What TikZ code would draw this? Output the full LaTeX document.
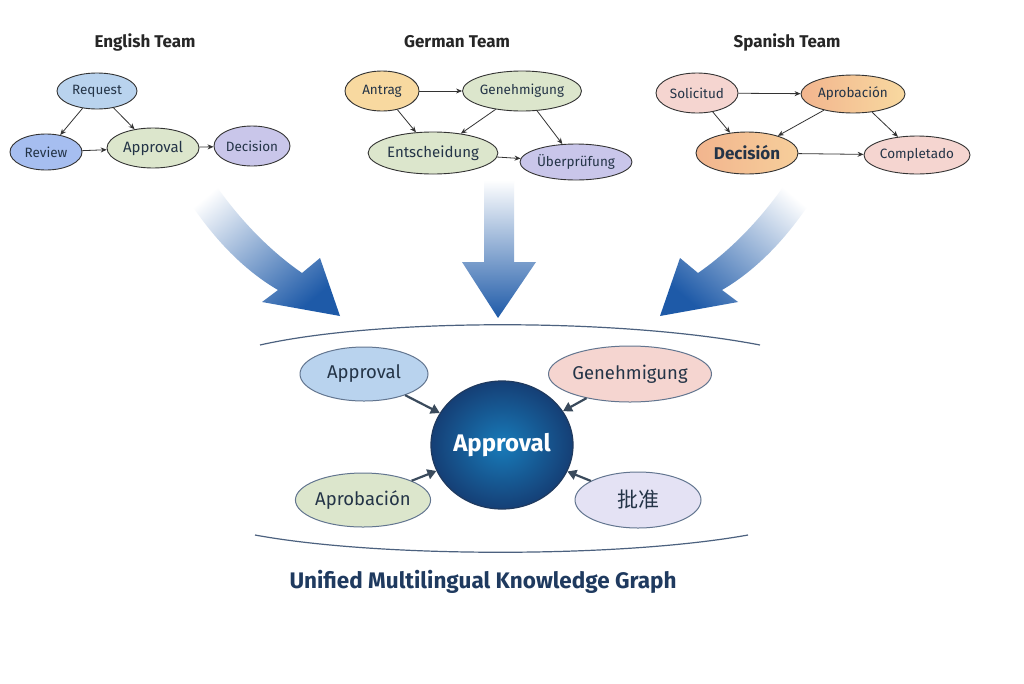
\documentclass[tikz,border=0pt]{standalone}
\usepackage{fontspec}
\setmainfont{Fira Sans}
\newfontfamily\cjk{Noto Sans CJK SC}
\usetikzlibrary{shapes.geometric,arrows.meta}
\definecolor{bl}{HTML}{B9D3EE}
\definecolor{gr}{HTML}{DCE6CC}
\definecolor{lv}{HTML}{C9C6EA}
\definecolor{or}{HTML}{F8D9A0}
\definecolor{pk}{HTML}{F5D5D0}
\definecolor{so}{HTML}{F2B58E}
\definecolor{txt}{HTML}{243447}
\definecolor{navy}{HTML}{1F3A5F}
\definecolor{arw}{HTML}{3A4A5C}
\definecolor{ab}{HTML}{1E5AA8}
\begin{document}
\begin{tikzpicture}[x=1pt,y=-1pt,
 sm/.style={ellipse,draw=black!80,line width=0.9pt,inner sep=0pt,font=\fontsize{13.5}{15}\selectfont,text=txt},
 bg/.style={ellipse,draw=navy!70,line width=1pt,inner sep=0pt,font=\fontsize{18.5}{20}\selectfont,text=txt},
 sa/.style={-{Stealth[length=6pt,width=5pt]},line width=0.8pt,black!80},
 ba/.style={-{Triangle[length=9pt,width=10pt]},line width=2.2pt,arw},
 ttl/.style={font=\fontsize{17}{19}\selectfont\bfseries,text=black!85},
 big/.style={top color=white,bottom color=ab}]
\useasboundingbox (0,0) rectangle (1024,683);
\fill[white] (0,0) rectangle (1024,683);
% titles
\node[ttl] (t1) at (145,42) {English Team};
\node[ttl] (t2) at (457,42) {German Team};
\node[ttl] (t3) at (787,42) {Spanish Team};
% English
\node[sm,fill=bl,minimum width=80,minimum height=36] (req) at (97,91) {Request};
\node[sm,fill=bl!90!blue,minimum width=72,minimum height=36] (rev) at (46,152) {Review};
\node[sm,fill=gr,minimum width=92,minimum height=40,font=\fontsize{15}{17}\selectfont] (eap) at (153,148) {Approval};
\node[sm,fill=lv,minimum width=76,minimum height=40] (dec) at (252,146) {Decision};
\draw[sa] (req) -- (rev);
\draw[sa] (req) -- (eap);
\draw[sa] (rev) -- (eap);
\draw[sa] (eap) -- (dec);
% German
\node[sm,fill=or,minimum width=74,minimum height=40] (ant) at (382,91) {Antrag};
\node[sm,fill=gr,minimum width=112,minimum height=40] (gen) at (522,91) {Genehmigung};
\node[sm,fill=gr,minimum width=122,minimum height=42,font=\fontsize{15}{17}\selectfont] (ent) at (433,153) {Entscheidung};
\node[sm,fill=lv,minimum width=112,minimum height=36] (ueb) at (576,162) {Überprüfung};
\draw[sa] (ant) -- (gen);
\draw[sa] (ant) -- (ent);
\draw[sa] (gen) -- (ent);
\draw[sa] (gen) -- (ueb);
\draw[sa] (ent) -- (ueb);
% Spanish
\node[sm,fill=pk,minimum width=82,minimum height=40] (sol) at (697,93) {Solicitud};
\node[sm,left color=so,right color=or,minimum width=104,minimum height=38] (apr) at (853,94) {Aprobación};
\node[sm,left color=so,right color=or!70!so,minimum width=102,minimum height=42,font=\fontsize{17}{19}\selectfont\bfseries] (sdec) at (747,153) {Decisión};
\node[sm,fill=pk,minimum width=106,minimum height=38] (com) at (917,155) {Completado};
\draw[sa] (sol) -- (apr);
\draw[sa] (sol) -- (sdec);
\draw[sa] (apr) -- (sdec);
\draw[sa] (apr) -- (com);
\draw[sa] (sdec) -- (com);
% big arrows
\shade[big,shading angle=40] (178,183) .. controls (205,230) and (240,268) .. (278,290) -- (262,302) -- (340,316) -- (320,258) -- (302,273) .. controls (266,248) and (236,215) .. (212,180) -- cycle;
\shade[big] (484,180) -- (484,262) -- (462,262) -- (498,318) -- (536,262) -- (514,262) -- (514,180) -- cycle;
\shade[big,shading angle=-40] (822,183) .. controls (795,230) and (760,268) .. (722,290) -- (738,302) -- (660,316) -- (680,258) -- (698,273) .. controls (734,248) and (764,215) .. (788,180) -- cycle;
% arcs
\draw[navy!80,line width=1.2pt] (260,345) .. controls (380,318) and (620,318) .. (760,345);
\draw[navy!80,line width=1.2pt] (255,535) .. controls (380,558) and (620,558) .. (748,535);
% central
\node[ellipse,draw=navy,line width=1.2pt,inner sep=0pt,minimum width=142,minimum height=128,
 inner color=ab!80!cyan,outer color=ab!70!black,text=white,font=\fontsize{24}{27}\selectfont\bfseries] (cen) at (502,445) {Approval};
\node[bg,fill=bl,minimum width=128,minimum height=54] (s1) at (364,374) {Approval};
\node[bg,fill=pk,minimum width=150,minimum height=56] (s2) at (630,374) {Genehmigung};
\node[bg,fill=gr,minimum width=134,minimum height=54] (s3) at (363,500) {Aprobación};
\node[bg,fill=lv!50,minimum width=126,minimum height=56,font=\cjk\fontsize{21}{23}\selectfont] (s4) at (638,500) {批准};
\draw[ba] (s1) -- (cen);
\draw[ba] (s2) -- (cen);
\draw[ba] (s3) -- (cen);
\draw[ba] (s4) -- (cen);
\node[font=\fontsize{22.5}{25}\selectfont\bfseries,text=navy] (ft) at (483,582) {Unified Multilingual Knowledge Graph};
\end{tikzpicture}
\end{document}
